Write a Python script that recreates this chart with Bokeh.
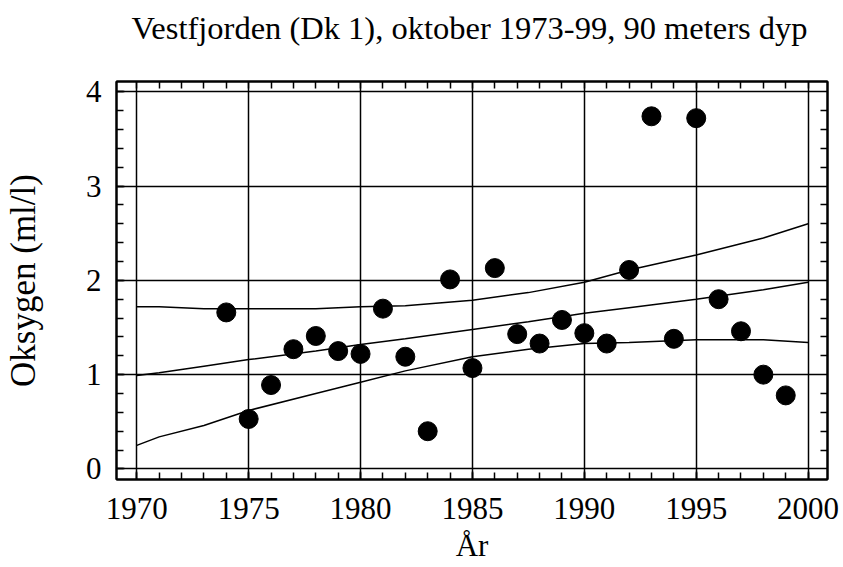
from bokeh.plotting import figure
from bokeh.models import Range1d, LinearAxis, SingleIntervalTicker, FixedTicker, Grid
from bokeh.embed import file_html
from bokeh.resources import INLINE

# ---- data ----
years = [1974, 1975, 1976, 1977, 1978, 1979, 1980, 1981, 1982, 1983, 1984, 1985, 1986,
         1987, 1988, 1989, 1990, 1991, 1992, 1993, 1994, 1995, 1996, 1997, 1998, 1999]
oxygen = [1.66, 0.53, 0.89, 1.27, 1.41, 1.25, 1.22, 1.70, 1.19, 0.40, 2.01, 1.07, 2.13,
          1.43, 1.33, 1.58, 1.44, 1.33, 2.11, 3.74, 1.38, 3.72, 1.80, 1.46, 1.00, 0.78]

fit_years = [1970, 1971, 1973, 1975, 1978, 1980, 1982, 1985, 1987.5, 1990, 1992, 1995, 1998, 2000]
fit_upper = [1.72, 1.72, 1.70, 1.70, 1.70, 1.72, 1.73, 1.79, 1.87, 1.98, 2.11, 2.27, 2.45, 2.60]
fit_mid = [0.99, 1.02, 1.09, 1.16, 1.25, 1.32, 1.38, 1.48, 1.56, 1.65, 1.71, 1.80, 1.90, 1.98]
fit_lower = [0.25, 0.34, 0.46, 0.62, 0.80, 0.92, 1.04, 1.19, 1.27, 1.33, 1.34, 1.37, 1.37, 1.34]

x_ticks = [1970, 1975, 1980, 1985, 1990, 1995, 2000]

title_text = "Vestfjorden (Dk 1), oktober 1973-99, 90 meters dyp"
x_label = "År"
y_label = "Oksygen (ml/l)"

FONT = "Liberation Serif"

X0, X1 = 1969.094, 2000.866
Y0, Y1 = -0.112, 4.109

p = figure(width=843, height=567, output_backend="svg", toolbar_location=None,
           x_range=Range1d(X0, X1), y_range=Range1d(Y0, Y1),
           min_border_left=115, min_border_right=16, min_border_top=81, min_border_bottom=88,
           x_axis_location=None, y_axis_location=None)

p.outline_line_color = "black"
p.outline_line_width = 2
p.background_fill_color = "white"
p.border_fill_color = "white"

xt = SingleIntervalTicker(interval=5, num_minor_ticks=5)
yt = SingleIntervalTicker(interval=1, num_minor_ticks=5)
# minor-only ticker for the unlabeled right edge
yt_minor = FixedTicker(ticks=[], minor_ticks=[k / 5 for k in range(0, 21) if k % 5])


def style_axis(ax):
    ax.axis_line_color = "black"
    ax.axis_line_width = 2
    ax.major_tick_in = 8
    ax.major_tick_out = 0
    ax.minor_tick_in = 7
    ax.minor_tick_out = 0
    ax.major_tick_line_color = "black"
    ax.minor_tick_line_color = "black"
    ax.major_tick_line_width = 1.5
    ax.minor_tick_line_width = 1.5
    ax.major_label_text_font = FONT
    ax.major_label_text_color = "black"
    ax.major_label_text_font_size = "31px"
    ax.axis_label_text_font = FONT
    ax.axis_label_text_font_style = "normal"
    ax.axis_label_text_color = "black"


bottom = LinearAxis(ticker=xt, axis_label=x_label)
style_axis(bottom)
bottom.major_label_standoff = 18
bottom.axis_label_text_font_size = "31px"
bottom.axis_label_standoff = 6
p.add_layout(bottom, "below")

# top edge: minor ticks only; unlabeled; its (invisible) outer tick length
# reserves the gap between the frame and the title
top = LinearAxis(ticker=xt)
style_axis(top)
top.major_tick_line_color = None
top.major_tick_out = 36
top.major_label_standoff = 0
top.major_label_overrides = {t: "" for t in x_ticks}
p.add_layout(top, "above")

left = LinearAxis(ticker=yt, axis_label=y_label)
style_axis(left)
left.major_label_standoff = 15
left.axis_label_text_font_size = "35px"
left.axis_label_standoff = 40
p.add_layout(left, "left")

right = LinearAxis(ticker=yt_minor)
style_axis(right)
p.add_layout(right, "right")

p.add_layout(Grid(dimension=0, ticker=xt, grid_line_color="black", grid_line_width=1.5))
p.add_layout(Grid(dimension=1, ticker=yt, grid_line_color="black", grid_line_width=1.5))

p.line(fit_years, fit_upper, line_color="black", line_width=1.5)
p.line(fit_years, fit_mid, line_color="black", line_width=1.5)
p.line(fit_years, fit_lower, line_color="black", line_width=1.5)

p.scatter(years, oxygen, size=19, marker="circle", fill_color="black", line_color="black")

p.title.text = title_text
p.title.align = "left"
p.title.offset = 15
p.title.standoff = 0
p.title.text_font = FONT
p.title.text_font_size = "32.5px"
p.title.text_font_style = "normal"
p.title.text_color = "black"

open("out.html", "w").write(file_html(p, INLINE))
